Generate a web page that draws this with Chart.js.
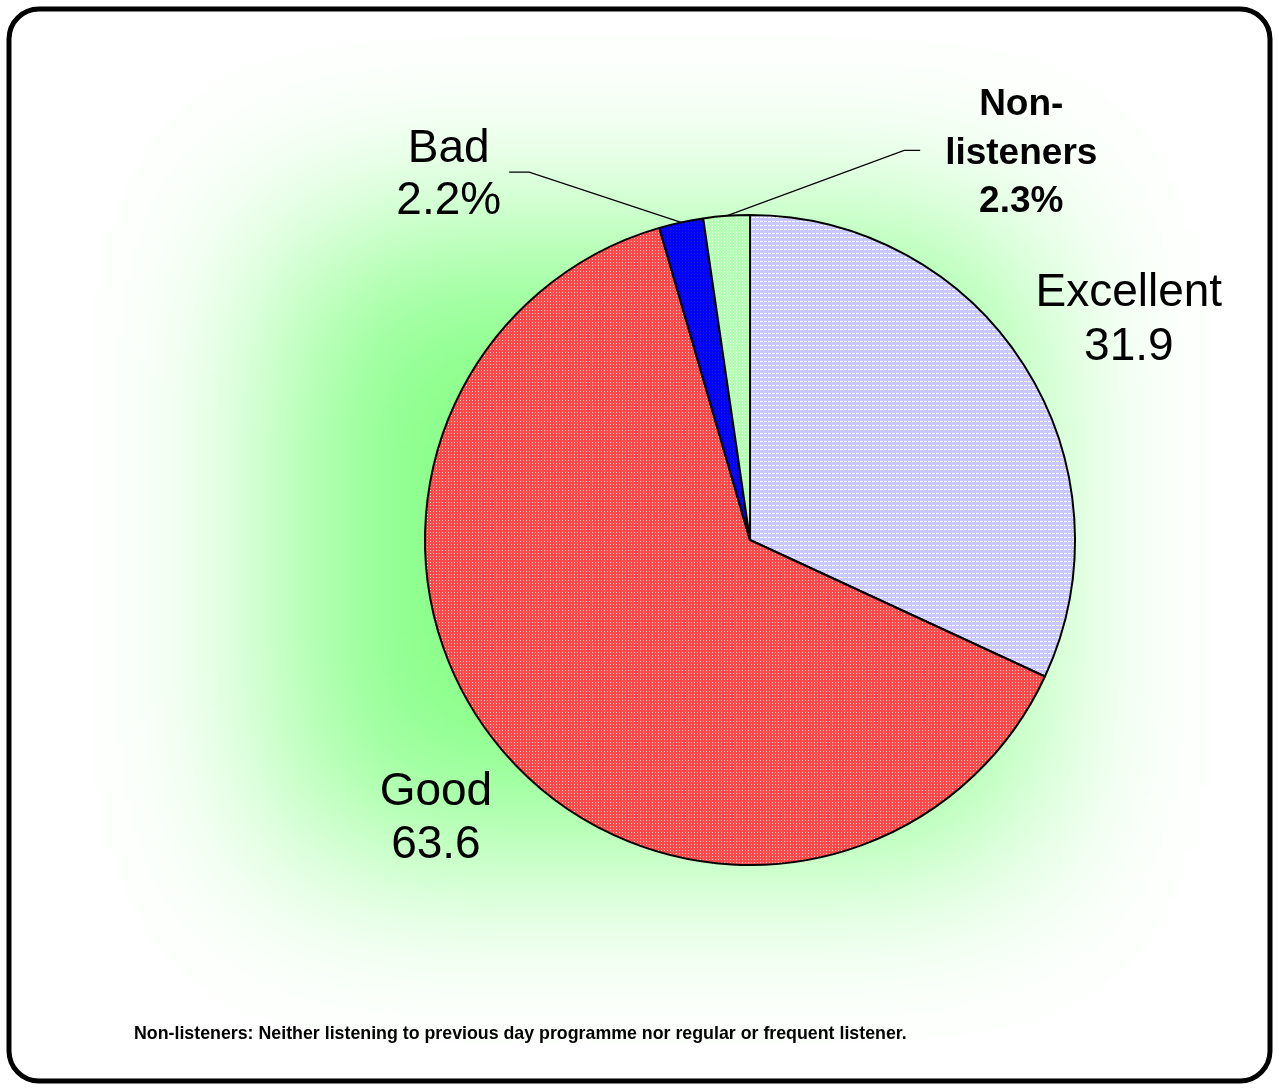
<!DOCTYPE html>
<html>
<head>
<meta charset="utf-8">
<script src="https://cdn.jsdelivr.net/npm/chart.js@4"></script>
<style>
  html, body { margin: 0; padding: 0; background: #fff; }
  #wrap { width: 1279px; height: 1090px; position: relative; }
</style>
</head>
<body>
<div id="wrap"><canvas id="pieChart" width="1279" height="1090"></canvas></div>
<script>
// DATA
const categories = ["Excellent", "Good", "Bad", "Non-\nlisteners"];
const values = [31.9, 63.6, 2.2, 2.3];
const valueLabels = ["31.9", "63.6", "2.2%", "2.3%"];
const footnote = "Non-listeners: Neither listening to previous day programme nor regular or frequent listener.";

// pattern fills
function makePattern(bg, dot, w, h, draw) {
  const c = document.createElement("canvas");
  c.width = w; c.height = h;
  const g = c.getContext("2d");
  g.fillStyle = bg;
  g.fillRect(0, 0, w, h);
  g.fillStyle = dot;
  draw(g);
  return g.createPattern(c, "repeat");
}
const ctx = document.getElementById("pieChart").getContext("2d");
const fills = [
  makePattern("#c8c8ff", "#ffffff", 4, 4, g => { g.fillRect(0, 1, 3, 1); }),
  makePattern("#ff4848", "#ffd0d0", 3, 3, g => { g.fillRect(1, 1, 1, 1); }),
  makePattern("#0000ff", "#2020c0", 3, 3, g => { g.fillRect(1, 1, 1, 1); }),
  makePattern("#b4ffb4", "#e8ffe8", 3, 3, g => { g.fillRect(1, 1, 1, 1); })
];

// label placement per slice: angle offset (deg) and distance factor, plus leader
const labelCfg = [
  { font: "46px 'Liberation Sans', Arial", lh: 54, dAng: 2.5, dist: 1.347 },
  { font: "46px 'Liberation Sans', Arial", lh: 53, dAng: -0.9, dist: 1.292 },
  { font: "46px 'Liberation Sans', Arial", lh: 52, dAng: -27.3, dist: 1.456, leader: { gap: 8, len: 20 } },
  { font: "bold 37px 'Liberation Sans', Arial", lh: 48.5, dAng: 39.2, dist: 1.453, leader: { gap: 25, len: 16 } }
];

const backgroundPlugin = {
  id: "bg",
  beforeDraw(chart) {
    const c = chart.ctx;
    const W = chart.width, H = chart.height;
    c.save();
    c.fillStyle = "#ffffff";
    c.fillRect(0, 0, W, H);
    // soft green glow behind the pie
    c.save();
    c.beginPath();
    c.rect(10, 10, W - 20, H - 20);
    c.clip();
    c.filter = "blur(95px)";
    c.fillStyle = "rgba(0,255,0,0.47)";
    c.fillRect(285, 230, 1017 - 285, 850 - 230);
    c.restore();
    // rounded border
    c.lineWidth = 5;
    c.strokeStyle = "#000";
    c.beginPath();
    c.roundRect(9, 9, W - 18, H - 18, 30);
    c.stroke();
    // footnote
    c.fillStyle = "#000";
    c.font = "bold 17.8px 'Liberation Sans', Arial";
    c.textBaseline = "alphabetic";
    c.fillText(footnote, 134, 1039);
    c.restore();
  }
};

const labelPlugin = {
  id: "labels",
  afterDatasetsDraw(chart) {
    const c = chart.ctx;
    const arcs = chart.getDatasetMeta(0).data;
    c.save();
    c.fillStyle = "#000";
    c.strokeStyle = "#000";
    c.textAlign = "center";
    c.textBaseline = "middle";
    arcs.forEach((arc, i) => {
      const cfg = labelCfg[i];
      const mid = (arc.startAngle + arc.endAngle) / 2;
      const a = mid + cfg.dAng * Math.PI / 180;
      const r = arc.outerRadius;
      const lx = arc.x + Math.cos(a) * r * cfg.dist;
      const ly = arc.y + Math.sin(a) * r * cfg.dist;
      const lines = (categories[i] + "\n" + valueLabels[i]).split("\n");
      c.font = cfg.font;
      const top = ly - (lines.length - 1) * cfg.lh / 2;
      lines.forEach((t, k) => c.fillText(t, lx, top + k * cfg.lh));
      if (cfg.leader) {
        const ex = arc.x + Math.cos(mid) * r;
        const ey = arc.y + Math.sin(mid) * r;
        const side = Math.cos(a) < 0 ? 1 : -1;
        const w0 = Math.max(...lines.map(t => c.measureText(t).width)) / 2;
        const sx = lx + side * (w0 + cfg.leader.gap);
        const sy = ly - 3;
        c.lineWidth = 1.2;
        c.beginPath();
        c.moveTo(sx, sy);
        c.lineTo(sx + side * cfg.leader.len, sy);
        c.lineTo(ex, ey);
        c.stroke();
      }
    });
    c.restore();
  }
};

new Chart(ctx, {
  type: "pie",
  data: {
    labels: categories,
    datasets: [{
      data: values,
      backgroundColor: fills,
      borderColor: "#000",
      borderWidth: 2
    }]
  },
  options: {
    responsive: false,
    animation: false,
    layout: { padding: { left: 424, right: 203, top: 214, bottom: 224 } },
    plugins: {
      legend: { display: false },
      tooltip: { enabled: false }
    }
  },
  plugins: [backgroundPlugin, labelPlugin]
});
</script>
</body>
</html>
